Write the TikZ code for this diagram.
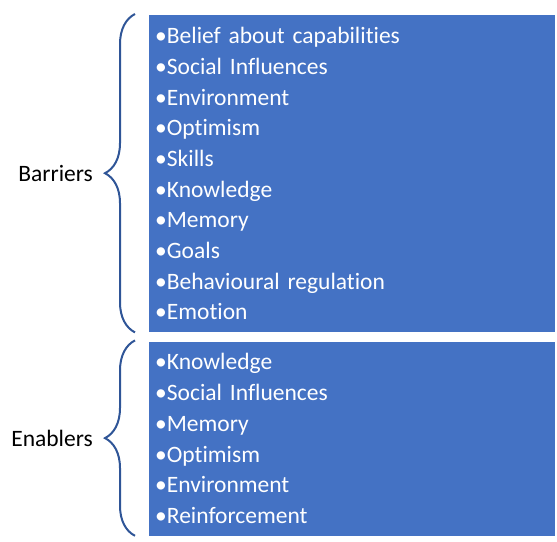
\documentclass[tikz,border=0pt]{standalone}
\usepackage{fontspec}
\setmainfont[Ligatures=NoCommon, WordSpace=0.8]{Carlito}
\usepackage{tikz}
\usetikzlibrary{positioning,calc,decorations.pathreplacing}
\definecolor{boxblue}{HTML}{4472C4}
\definecolor{braceblue}{HTML}{2F5597}

\begin{document}
\begin{tikzpicture}[
    listbox/.style={fill=boxblue, text=white, anchor=north west, align=left,
      minimum width=406pt, text width=394pt, inner xsep=6pt, inner ysep=0pt,
      font=\fontsize{23.5}{30.7}\selectfont},
    grplabel/.style={inner sep=0pt, font=\fontsize{23.5}{29}\selectfont},
    sidebrace/.style={braceblue, line width=2pt,
      decorate, decoration={brace, amplitude=30pt}}
  ]
  \useasboundingbox (0,0) rectangle (557pt,-541pt);
  % the two lists
  \node[listbox, minimum height=317pt] (bar) at (149pt,-15pt) {%
    •Belief about capabilities\\
    •Social Influences\\
    •Environment\\
    •Optimism\\
    •Skills\\
    •Knowledge\\
    •Memory\\
    •Goals\\
    •Behavioural regulation\\
    •Emotion};
  \node[listbox, minimum height=194pt, below=9pt of bar.south west, anchor=north west] (ena) {%
    •Knowledge\\
    •Social Influences\\
    •Memory\\
    •Optimism\\
    •Environment\\
    •Reinforcement};
  % braces and group names
  \draw[sidebrace] ($(bar.south west)+(-14pt,0)$) -- ($(bar.north west)+(-14pt,1pt)$);
  \draw[sidebrace] ($(ena.south west)+(-14pt,0)$) -- ($(ena.north west)+(-14pt,1pt)$);
  \node[grplabel, left=56pt of bar] (barlbl) {Barriers};
  \node[grplabel, left=56pt of ena] (enalbl) {Enablers};
\end{tikzpicture}
\end{document}
